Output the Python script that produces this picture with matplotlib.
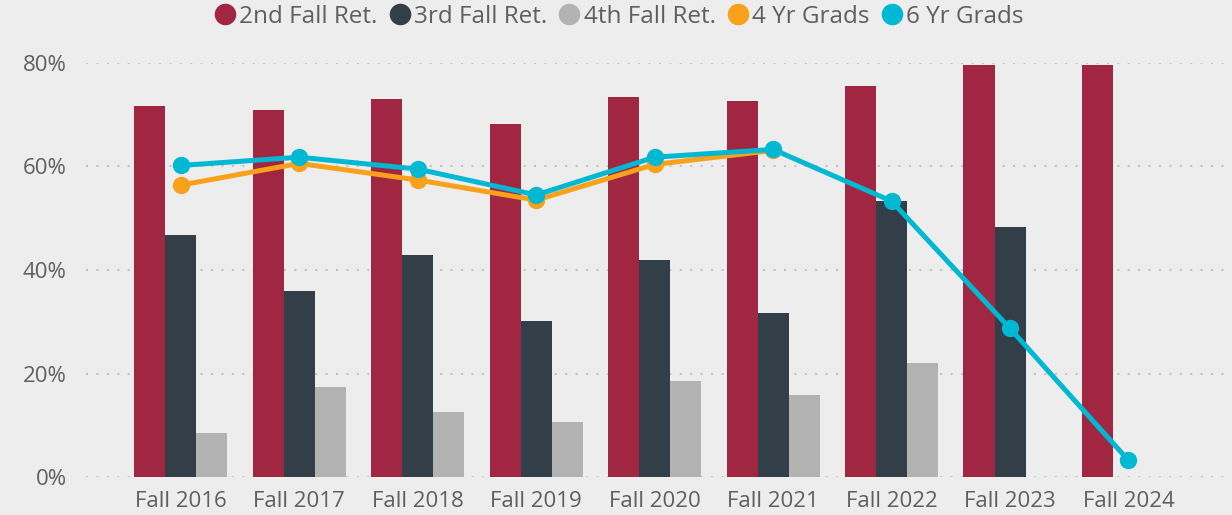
import numpy as np
import matplotlib.pyplot as plt
from matplotlib.lines import Line2D
from matplotlib.ticker import FuncFormatter

categories = ["Fall 2016", "Fall 2017", "Fall 2018", "Fall 2019", "Fall 2020",
              "Fall 2021", "Fall 2022", "Fall 2023", "Fall 2024"]
ret_2nd = [71.7, 70.9, 73.1, 68.2, 73.4, 72.7, 75.6, 79.6, 79.6]
ret_3rd = [46.7, 35.9, 42.9, 30.1, 41.9, 31.6, 53.3, 48.3, np.nan]
ret_4th = [8.5, 17.4, 12.5, 10.6, 18.5, 15.8, 22.0, np.nan, np.nan]
grads_4yr = [56.4, 60.6, 57.4, 53.5, 60.4, 63.1, np.nan, np.nan, np.nan]
grads_6yr = [60.2, 61.8, 59.5, 54.5, 61.8, 63.3, 53.3, 28.7, 3.2]
y_ticks = [0, 20, 40, 60, 80]

c_red = "#A12642"
c_dark = "#323E48"
c_light = "#B3B3B3"
c_orange = "#F9A11B"
c_cyan = "#00B8D2"
bg = "#ECEDEC"
txt = "#5f5f5f"

plt.rcParams['font.family'] = ['Open Sans', 'DejaVu Sans']

fig = plt.figure(figsize=(12.32, 5.15), dpi=100, facecolor=bg)
ax = fig.add_axes([86 / 1232, 1 - 477 / 515, (1228 - 86) / 1232, (477 - 63) / 515])
ax.set_facecolor(bg)

x = np.arange(len(categories))
w = 0.262
ax.bar(x - w, ret_2nd, w, color=c_red, zorder=2)
ax.bar(x, ret_3rd, w, color=c_dark, zorder=2)
ax.bar(x + w, ret_4th, w, color=c_light, zorder=2)

ax.plot(x, grads_4yr, color=c_orange, lw=3.6, marker="o", ms=11.5, zorder=3)
ax.plot(x, grads_6yr, color=c_cyan, lw=3.6, marker="o", ms=11.5, zorder=4)

ax.set_xlim(-0.80, 8.84)
ax.set_ylim(0, 80)
ax.set_yticks(y_ticks)
ax.yaxis.set_major_formatter(FuncFormatter(lambda v, p: f"{v:.0f}%"))
ax.set_xticks(x)
ax.set_xticklabels(categories)
ax.tick_params(axis="both", length=0, labelsize=16, colors=txt)
ax.tick_params(axis="y", pad=14)
ax.tick_params(axis="x", pad=10)
ax.grid(axis="y", color="#c4c4c4", linestyle=(0, (1, 4)), linewidth=1.5, zorder=0)
for s in ax.spines.values():
    s.set_visible(False)

handles = [Line2D([], [], marker="o", ls="", ms=14.5, color=c)
           for c in (c_red, c_dark, c_light, c_orange, c_cyan)]
labels = ["2nd Fall Ret.", "3rd Fall Ret.", "4th Fall Ret.", "4 Yr Grads", "6 Yr Grads"]
leg = fig.legend(handles, labels, loc="center", bbox_to_anchor=(617 / 1232, 1 - 17 / 515),
                 ncol=5, frameon=False, fontsize=17.5, handletextpad=0.0,
                 columnspacing=0.3, handlelength=1.2)
for t in leg.get_texts():
    t.set_color(txt)

fig.savefig("out.png", dpi=100, facecolor=bg)
